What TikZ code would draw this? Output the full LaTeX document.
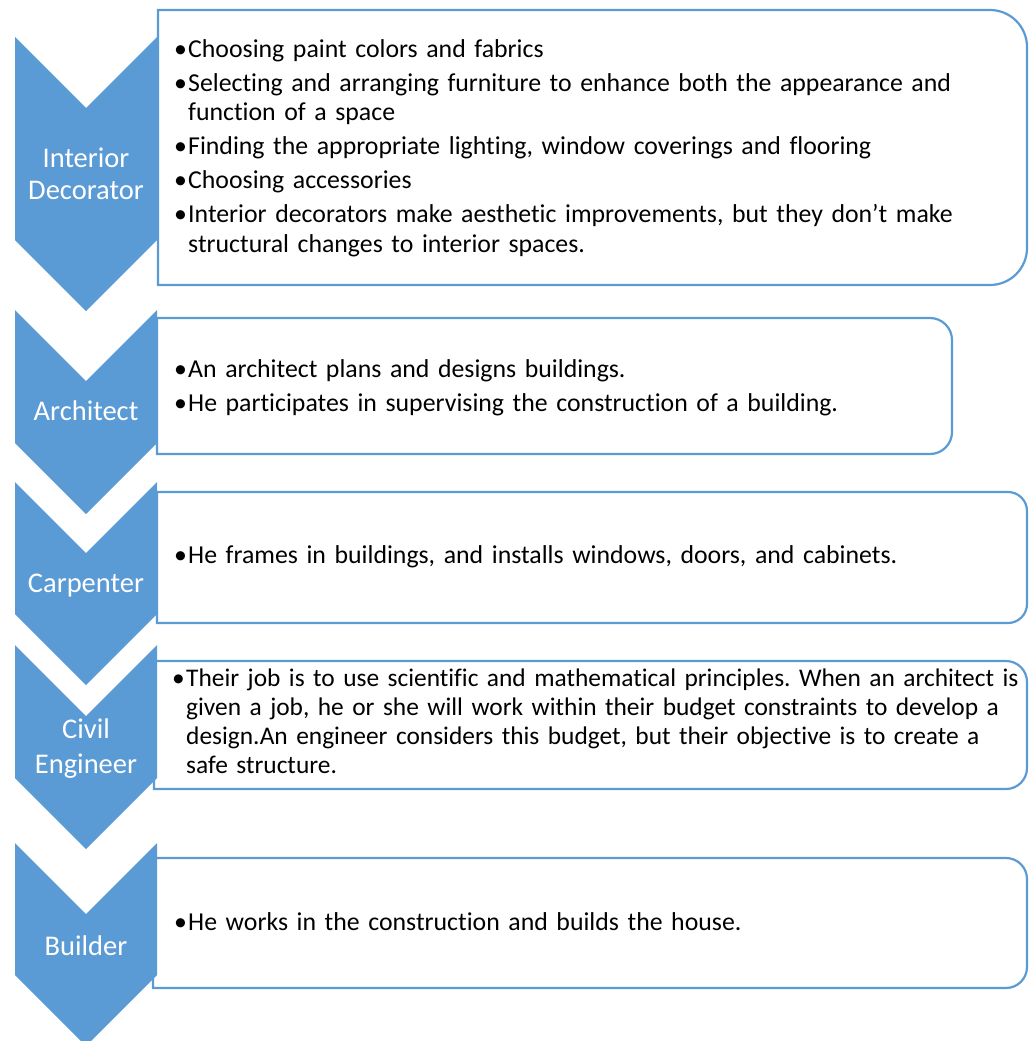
\documentclass[tikz,border=0pt]{standalone}
\usepackage{fontspec}
\setmainfont{Carlito}[Ligatures=NoCommon]
\usepackage{tikz}
\usetikzlibrary{positioning}
\definecolor{officeblue}{HTML}{5B9BD5}
\frenchspacing
% bullet item with hanging indent
\newcommand{\bitem}{\par\hangindent=14pt\hangafter=1\noindent\strut\makebox[14pt][l]{\textbullet}}

\begin{document}
\begin{tikzpicture}[x=1pt, y=-1pt,
    panel/.style={draw=officeblue, line width=2.2pt, fill=white},
    chevlabel/.style={text=white, inner sep=0pt, align=center, anchor=base, font=\fontsize{28.5}{33}\selectfont},
    paneltext/.style={anchor=north west, inner sep=0pt, text width=860pt, align=left,
        font=\fontsize{25.8}{29.5}\selectfont, execute at begin node={\setlength{\parskip}{4.5pt}}}]
    \useasboundingbox (0,0) rectangle (1029,1041);

    % Text panels, rounded on the right only
    \foreach \xa/\ya/\xb/\yb/\r in {158/10/1027/285/37, 157/318/952/454/22,
        157/492/1027/623/19, 154/661/1027/789/21, 153/858/1027/988/21} {
        \draw[panel] (\xa,\ya) -- (\xb-\r,\ya) arc[start angle=90, end angle=0, radius=\r pt]
            -- (\xb,\yb-\r) arc[start angle=0, end angle=-90, radius=\r pt] -- (\xa,\yb) -- cycle;
    }

    % Chevrons (top corners, start of the lower point)
    \foreach \ytop/\yside in {37/240, 310/443, 482/614, 645/778, 843/975} {
        \fill[officeblue] (15,\ytop) -- (86,\ytop+71) -- (157,\ytop) -- (157,\yside)
            -- (86,\yside+71) -- (15,\yside) -- cycle;
    }

    % Interior decorator (label base = last line, text first baseline = y+34)
    \node[chevlabel] (decolbl) at (86,199) {Interior\\[-1pt]Decorator};
    \node[paneltext] (decotext) at (174,23) {%
        \bitem Choosing paint colors and fabrics
        \bitem Selecting and arranging furniture to enhance both the appearance and\newline function of a space
        \bitem Finding the appropriate lighting, window coverings and flooring
        \bitem Choosing accessories
        \bitem Interior decorators make aesthetic improvements, but they don’t make\newline structural changes to interior spaces.\par};

    % Architect
    \node[chevlabel] (archlbl) at (86,420) {Architect};
    \node[paneltext] (archtext) at (174,343) {%
        \bitem An architect plans and designs buildings.
        \bitem He participates in supervising the construction of a building.\par};

    % Carpenter
    \node[chevlabel] (carplbl) at (86,592) {Carpenter};
    \node[paneltext] (carptext) at (174,529) {%
        \bitem He frames in buildings, and installs windows, doors, and cabinets.\par};

    % Civil engineer
    \node[chevlabel] (civlbl) at (86,773) {Civil\\[2pt]Engineer};
    \node[paneltext, font=\fontsize{25.4}{29}\selectfont] (civtext) at (172,653) {%
        \bitem Their job is to use scientific and mathematical principles. When an architect is\newline
        given a job, he or she will work within their budget constraints to develop a\newline
        design.An engineer considers this budget, but their objective is to create a\newline
        safe structure.\par};

    % Builder
    \node[chevlabel] (buildlbl) at (86,955) {Builder};
    \node[paneltext] (buildtext) at (174,896) {%
        \bitem He works in the construction and builds the house.\par};
\end{tikzpicture}
\end{document}
